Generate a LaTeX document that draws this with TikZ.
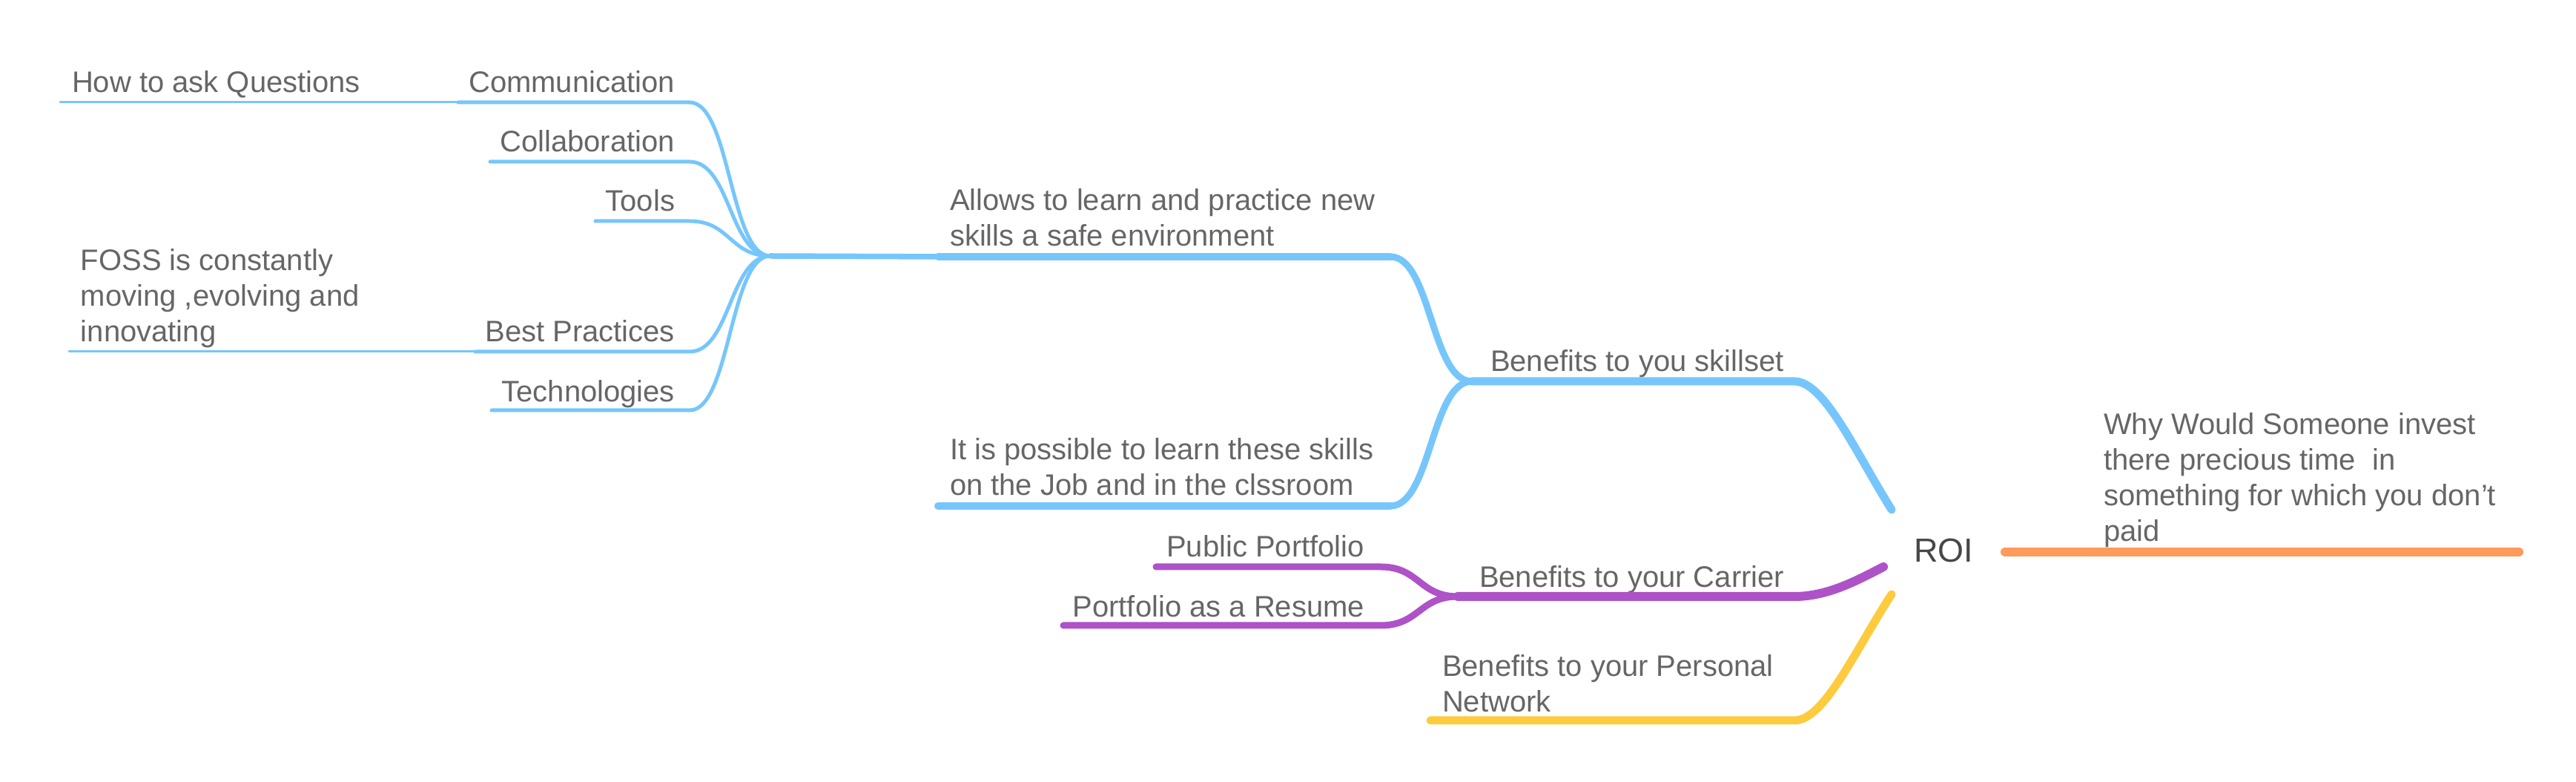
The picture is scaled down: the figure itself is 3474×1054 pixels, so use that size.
\documentclass[tikz,border=0pt]{standalone}
\usepackage{fontspec}
\setmainfont{Liberation Sans}
\definecolor{txt}{HTML}{666666}
\definecolor{roitxt}{HTML}{474747}
\definecolor{blu}{HTML}{76C6FC}
\definecolor{pur}{HTML}{AE52C8}
\definecolor{yel}{HTML}{FECB3E}
\definecolor{ora}{HTML}{FE9A5A}
\begin{document}
\begin{tikzpicture}[x=0.1mm,y=-0.1mm,
  lbl/.style={anchor=base west, inner sep=0pt, outer sep=0pt, text=txt,
    font=\fontsize{11.38pt}{13.66pt}\selectfont, align=left},
  lblr/.style={lbl, anchor=base east, align=right},
  conn/.style={line cap=round, line join=round},
  w3/.style={conn, line width=0.3mm},
  w5/.style={conn, line width=0.5mm},
  w7/.style={conn, line width=0.75mm},
  w9/.style={conn, line width=0.9mm},
  w10/.style={conn, line width=1.0mm},
  w11/.style={conn, line width=1.1mm},
  w12/.style={conn, line width=1.2mm}]
\useasboundingbox (0,0) rectangle (3474,1054);

% ---------- coordinates ----------
\coordinate (roiTop) at (2551,687);
\coordinate (roiL)   at (2540,764);
\coordinate (roiBot) at (2551,801);
\coordinate (skL) at (1985,514); \coordinate (skR) at (2420,514);
\coordinate (alL) at (1265,346); \coordinate (alR) at (1875,346);
\coordinate (hubA) at (1039,345);
\coordinate (poL) at (1265,682); \coordinate (poR) at (1875,682);
\coordinate (coR) at (930,138); \coordinate (coL) at (618,138); \coordinate (haL) at (81,138);
\coordinate (clR) at (930,218); \coordinate (clL) at (661,218);
\coordinate (toR) at (930,298); \coordinate (toL) at (803,298);
\coordinate (bpR) at (930,474); \coordinate (bpL) at (641,474); \coordinate (foL) at (93,474);
\coordinate (teR) at (930,553); \coordinate (teL) at (663,553);
\coordinate (caL) at (1966,804); \coordinate (caR) at (2420,804);
\coordinate (ppR) at (1862,764); \coordinate (ppL) at (1559,764);
\coordinate (prR) at (1862,843); \coordinate (prL) at (1434,843);
\coordinate (peL) at (1929,971); \coordinate (peR) at (2420,971);
\coordinate (orL) at (2704,744); \coordinate (orR) at (3397,744);

% ---------- texts (base = baseline of last line) ----------
\node[lbl, text=roitxt, font=\fontsize{12.8pt}{15pt}\selectfont] (roi) at (2581,758) {ROI};
\node[lbl] (tSkill) at (2010,501) {Benefits to you skillset};
\node[lbl] (tAllow) at (1281,332) {Allows to learn and practice new\\skills a safe environment};
\node[lbl] (tPoss) at (1281,668) {It is possible to learn these skills\\on the Job and in the clssroom};
\node[lblr] (tComm) at (910,125) {Communication};
\node[lbl] (tHow) at (97,125) {How to ask Questions};
\node[lblr] (tColl) at (910,205) {Collaboration};
\node[lblr] (tTools) at (910,285) {Tools};
\node[lblr] (tBest) at (910,461) {Best Practices};
\node[lbl] (tFoss) at (109,461) {FOSS is constantly\\moving ,evolving and\\innovating};
\node[lblr] (tTech) at (910,542) {Technologies};
\node[lbl] (tCarr) at (1995,792) {Benefits to your Carrier};
\node[lblr] (tPub) at (1840,751) {Public Portfolio};
\node[lblr] (tRes) at (1840,832) {Portfolio as a Resume};
\node[lbl] (tPers) at (1945,960) {Benefits to your Personal\\Network};
\node[lbl] (tWhy) at (2837,730) {Why Would Someone invest\\there precious time\ \ in\\something for which you don’t\\paid};

% ---------- blue branch ----------
\draw[blu, w11] (roiTop) .. controls (2501,607) and (2460,514) .. (skR) -- (skL);
\draw[blu, w9] (skL) .. controls +(-55,0) and +(55,0) .. (alR);
\draw[blu, w9] (skL) .. controls +(-55,0) and +(55,0) .. (poR);
\draw[blu, w10] (alR) -- (alL);
\draw[blu, w10] (poR) -- (poL);
\draw[blu, w7] (alL) -- (hubA);
\foreach \r/\l in {coR/coL, clR/clL, toR/toL, bpR/bpL, teR/teL}{
  \draw[blu, w5] (hubA) .. controls +(-55,0) and +(55,0) .. (\r) -- (\l);
}
\draw[blu, w3] (coL) -- (haL);
\draw[blu, w3] (bpL) -- (foL);

% ---------- purple branch ----------
\draw[pur, w12] (roiL) .. controls (2505,782) and (2465,804) .. (caR) -- (caL);
\draw[pur, w9] (caL) .. controls +(-52,0) and +(52,0) .. (ppR) -- (ppL);
\draw[pur, w9] (caL) .. controls +(-52,0) and +(52,0) .. (prR) -- (prL);

% ---------- yellow branch ----------
\draw[yel, w11] (roiBot) .. controls (2501,878) and (2460,971) .. (peR) -- (peL);

% ---------- orange branch ----------
\draw[ora, w12] (orL) -- (orR);
\end{tikzpicture}
\end{document}
